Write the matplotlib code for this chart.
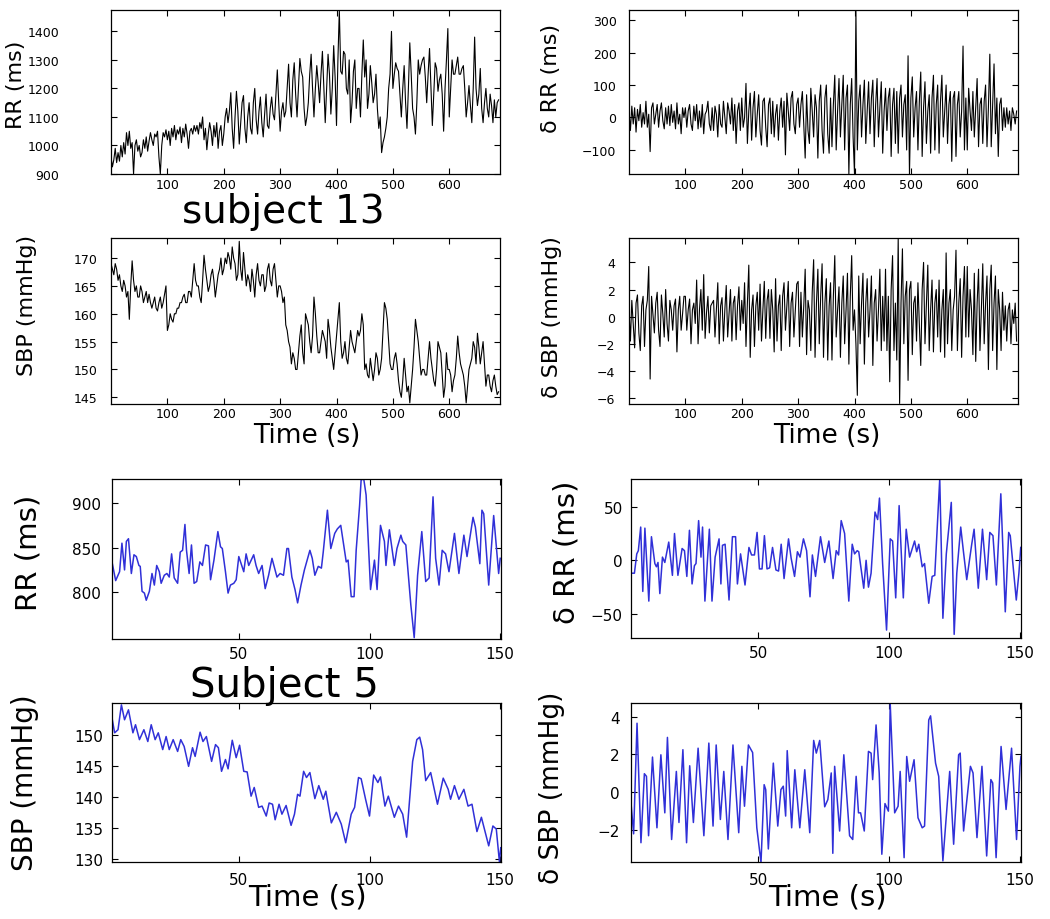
import numpy as np
import matplotlib
matplotlib.use("Agg")
from matplotlib import pyplot as plt

# subject 13, one value every 2.5 s
rr13 = [960, 925, 950, 990, 940, 975, 945, 1000, 960, 1010, 970, 1045, 1000, 1050, 990, 1010, 900, 1000, 1020, 980,
        1000, 960, 975, 1020, 990, 1030, 980, 1015, 1045, 1020, 1000, 1040, 1030, 1050, 960, 900, 1000, 1045, 1030, 1055,
        1020, 1050, 1000, 1060, 1030, 1070, 1020, 1055, 1040, 1065, 1010, 1060, 1030, 1075, 1040, 990, 1050, 1060, 1040, 1070,
        1050, 1070, 1040, 1080, 1060, 1100, 1020, 1060, 985, 1040, 1080, 1050, 1000, 1070, 1030, 1080, 990, 1050, 1070, 1000,
        1040, 1100, 1130, 1080, 1120, 1185, 1060, 990, 1100, 1190, 1120, 1005, 1080, 1150, 1175, 1060, 1010, 1100, 1150, 1060,
        1040, 1150, 1200, 1090, 1040, 1120, 1170, 1080, 1030, 1110, 1180, 1070, 1060, 1130, 1170, 1110, 1090, 1180, 1265, 1150,
        1050, 1120, 1150, 1100, 1120, 1200, 1285, 1150, 1100, 1230, 1290, 1180, 1100, 1200, 1305, 1260, 1240, 1130, 1070, 1100,
        1150, 1250, 1320, 1200, 1100, 1200, 1280, 1220, 1150, 1250, 1330, 1200, 1080, 1200, 1320, 1250, 1110, 1200, 1350, 1240,
        1070, 1300, 1475, 1260, 1250, 1330, 1320, 1200, 1180, 1300, 1080, 1150, 1260, 1300, 1130, 1200, 1200, 1100, 1250, 1370,
        1240, 1300, 1130, 1180, 1280, 1220, 1150, 1180, 1250, 1130, 1060, 1100, 975, 1010, 1030, 1060, 1100, 1200, 1250, 1400,
        1200, 1250, 1290, 1270, 1260, 1180, 1100, 1200, 1280, 1150, 1060, 1200, 1360, 1250, 1130, 1100, 1040, 1150, 1300, 1250,
        1280, 1300, 1310, 1240, 1150, 1250, 1340, 1200, 1070, 1180, 1290, 1270, 1190, 1230, 1250, 1180, 1050, 1200, 1300, 1410,
        1100, 1200, 1300, 1250, 1250, 1280, 1310, 1250, 1250, 1270, 1280, 1200, 1100, 1150, 1210, 1140, 1080, 1200, 1380, 1200,
        1140, 1180, 1270, 1130, 1080, 1150, 1200, 1130, 1100, 1180, 1140, 1080, 1160, 1100, 1150, 1160]

drr13 = [20, -40, 35, -20, 30, -45, 25, -10, 40, -30, 15, -20, 50, -30, 10, -105, 30, 45, -20, 10,
         40, -30, 20, 45, -10, -35, 30, -20, 35, -25, 40, -15, 20, -35, 45, -20, 10, -50, 30, 0,
         30, -30, 20, 40, -20, -40, 35, -10, 40, -35, 20, -30, 40, -50, 10, 20, 50, -20, -40, 30,
         -40, 35, 10, -60, 40, -20, -30, 50, 0, -50, 45, 20, -20, 60, -40, 40, -80, 20, 45, -40,
         60, -30, 0, 105, -80, 20, 75, -70, 30, 80, -60, 10, 70, -40, -85, 50, 60, -30, -90, 40,
         60, -50, 50, -60, 10, 40, -70, 20, 60, -30, 50, -115, 75, 20, -40, 60, 80, -20, -50, 40,
         60, -30, 40, 80, -20, -125, 70, -40, -80, 90, 20, -60, 70, 30, -125, 50, 100, -40, -110, 60,
         100, -50, -110, 60, -90, 40, 130, -100, 20, 120, -60, 40, 130, -100, 60, 100, -174, 40, 120, -60,
         -174, 330, -100, 50, 100, -60, 40, 115, -80, 20, 110, -50, 60, 115, -90, 40, 120, -60, 30, 110,
         -110, 20, 90, -40, 60, 90, -120, 40, 90, -80, 80, -110, 60, 100, -60, 40, 70, -100, 190, -174,
         60, 125, -60, 30, 80, -100, 50, 140, -120, 30, 110, -80, 20, 70, -110, 60, 130, -100, 40, 100,
         -110, 50, 130, -60, 20, 100, -80, 40, 80, -135, 60, 80, -120, 40, 80, -60, 20, 220, -100, 60,
         -100, 90, 20, -40, 80, -60, 30, 120, -90, 40, 60, -80, 50, 100, -90, 30, 195, -90, 40, 165,
         -50, 60, -120, 40, 60, -40, 30, -30, 30, -20, 20, -40, 30, 10, -20, 20]

sbp13 = [169, 168, 167, 169, 168, 166, 167, 165, 164, 166, 165, 163, 164, 159, 165, 169.5, 166, 164, 165, 163,
         163, 165, 164, 162, 163, 164, 162, 163.5, 162, 161, 162, 163, 161, 160.5, 162, 163, 161, 162, 163.5, 165,
         157, 158, 160, 159, 158.5, 160, 160, 161, 161, 162, 162, 163, 163.5, 162, 162, 164, 164, 163, 166, 169,
         166, 165, 165, 163, 162, 166, 170.5, 168, 166, 164, 165, 167, 168, 166, 163, 165, 167, 168, 170, 167,
         168, 170, 169, 171, 170, 168, 172, 170, 169, 166, 167, 173, 168, 166, 171, 168, 165, 167, 166, 164,
         168, 166, 163, 167, 169, 166, 165, 167, 167, 164, 165, 168, 169, 166, 165, 168, 169, 166, 163, 165,
         165, 164, 162, 163, 158, 157, 155, 154, 151, 153, 152, 150, 150, 153, 156, 158, 153, 151, 160, 159,
         158, 155, 153, 156, 163, 160, 156, 153, 153, 155, 157, 156, 155, 152, 159, 157, 154, 152, 150, 153,
         156, 159, 162, 155, 152, 153, 155, 152, 151, 154, 157, 155, 154, 153, 155, 157, 156, 157, 160, 158,
         150, 151, 149, 148.5, 152, 150, 148, 150, 153, 152, 149, 150, 152, 157, 162, 161, 159, 155, 151, 150,
         150, 152, 153, 151, 148, 146, 145, 148, 152, 149, 146, 147, 144, 147, 150, 154, 159, 157, 155, 152,
         149, 150, 150, 149, 149, 152, 155, 152, 150, 148, 147, 150, 155, 154, 153, 149, 145, 147, 153, 150,
         150, 149, 146, 148, 149, 152, 156, 153, 151, 150, 149, 147, 144, 147, 150, 151, 152, 155, 154, 151,
         156.5, 154, 151, 153, 155, 151, 147, 149, 149, 147, 146, 148, 149, 147, 145.5, 146]

dsbp13 = [0.5, -1.8, 1.2, -0.5, -2.3, 1.0, 1.6, -1.2, -2.5, 0.8, 1.5, -2.2, 0.5, 1.2, 3.7, -4.6, 1.5, 0.2, -1.2, 1.0,
          1.8, -1.0, -2.2, 1.6, 0.2, -1.5, 2.0, -0.5, -1.8, 1.2, 0.5, -1.0, 0.8, 1.3, -2.6, 0.5, 1.5, -1.0, 0.2, 1.5,
          1.5, -1.0, 0.5, 1.3, -2.0, 0.5, 1.0, -0.5, 2.7, -2.0, 0.5, 2.0, -1.0, 3.1, -1.6, 0.3, 1.5, -1.2, 0.8, 1.0,
          1.2, -1.5, 0.5, 2.5, -2.0, 0.8, 1.4, -1.8, 0.5, 2.3, -1.5, 0.2, 2.0, -1.8, 1.0, 1.5, -1.7, 0.8, 2.2, -1.0,
          1.2, -0.5, 2.5, -2.2, 1.0, 3.8, -3.0, 0.5, 1.6, -2.2, 0.8, 1.8, -1.0, 2.4, -1.8, 0.5, 2.6, -1.6, 1.2, 2.0,
          -1.6, 2.0, 0.5, -2.6, 2.8, -1.8, 0.8, 1.6, -2.5, 1.5, 2.5, -1.0, 0.8, 2.6, -2.2, 1.0, 1.8, -1.5, 0.5, 2.4,
          2.6, -2.2, 1.8, -1.5, 0.8, 3.5, -2.8, 1.2, 0.5, -2.5, 1.8, 4.2, -3.0, 1.0, 3.5, -2.0, 1.5, 3.9, -3.0, 1.0,
          2.8, -3.2, 0.8, 2.5, -3.2, 1.5, 4.5, -1.5, 0.5, 2.2, -3.0, 1.0, 3.0, -2.0, 0.5, 3.2, -3.5, 1.5, 4.5, -1.0,
          0.5, -2.0, -5.8, 3.0, -2.0, 1.0, 3.2, -3.5, 1.0, 2.8, -1.5, 0.5, 3.0, -3.6, 1.0, 2.0, -1.8, 0.5, 3.5, -2.5,
          1.5, -1.8, 3.5, -2.5, 1.5, -4.8, 2.0, 4.5, -2.5, 1.0, -3.2, 5.8, -6.4, 1.0, 5.0, -2.0, 1.5, 2.6, -4.7, 2.0,
          2.6, -2.8, 1.0, 1.5, -1.8, 2.5, -0.5, -3.6, 2.0, 4.0, -2.0, 1.0, 3.8, -2.5, 0.5, 2.7, -2.6, 1.0, 2.0, -1.5,
          2.7, -2.6, 0.5, 2.0, -3.0, 4.7, -2.0, 1.0, 2.0, -2.5, 0.5, 1.5, 4.9, -2.5, 1.0, 2.8, -3.0, 1.5, 3.7, -1.5,
          3.7, -1.5, 2.0, 0.5, -2.8, 3.2, -3.3, 1.0, 3.5, -2.5, 0.5, 3.9, -2.0, 1.0, 3.0, -3.9, 2.0, 3.8, -2.5, 1.0,
          3.0, -3.9, 2.0, 0.5, -2.5, 1.8, -1.0, 0.8, -1.8, 0.5, 1.0, -2.0, 0.5, -0.5, 1.0, -1.8]

# subject 5, turning points (time s, value)
t_rr5 = [1.5, 2.9, 4.4, 5.3, 6.3, 7.0, 7.8, 8.9, 9.9, 10.8,
         11.8, 12.3, 13.0, 13.9, 14.6, 15.8, 16.8, 17.7, 18.6, 19.6,
         20.3, 21.5, 22.5, 23.4, 24.3, 25.3, 26.6, 27.6, 28.5, 29.4,
         30.0, 31.0, 31.9, 32.9, 33.9, 35.1, 36.1, 37.3, 38.4, 39.2,
         40.5, 41.1, 42.0, 43.0, 43.7, 44.9, 45.9, 46.8, 48.1, 49.0,
         50.0, 51.9, 52.8, 53.8, 55.7, 56.6, 57.6, 58.9, 60.1, 61.4,
         62.7, 64.6, 65.8, 67.1, 68.4, 69.0, 70.3, 71.5, 72.5, 73.8,
         75.1, 77.2, 78.1, 79.1, 80.4, 81.6, 82.3, 83.9, 85.2, 86.7,
         87.7, 89.0, 91.1, 91.8, 93.0, 94.1, 94.9, 96.2, 96.8, 97.8,
         98.7, 100.4, 101.9, 102.9, 104.2, 105.7, 106.3, 107.6, 109.5, 110.5,
         112.0, 112.7, 113.9, 115.8, 117.1, 118.4, 120.0, 121.5, 122.8, 124.3,
         125.3, 126.6, 127.8, 129.1, 130.4, 132.5, 134.2, 136.1, 137.3, 139.6,
         140.5, 142.2, 143.0, 143.7, 145.6, 147.5, 149.4, 150.0]
rr5 = [834, 813, 823, 855, 825, 857, 860, 821, 842, 840,
       830, 829, 801, 799, 791, 801, 821, 808, 830, 823,
       810, 819, 821, 817, 843, 816, 810, 845, 847, 876,
       847, 821, 853, 810, 812, 834, 830, 853, 852, 814,
       836, 849, 868, 851, 849, 823, 799, 808, 810, 814,
       840, 823, 843, 830, 842, 830, 821, 830, 804, 819,
       838, 817, 821, 819, 849, 849, 817, 803, 788, 808,
       825, 847, 838, 819, 829, 827, 845, 892, 849, 866,
       871, 875, 834, 836, 795, 795, 847, 897, 926, 927,
       909, 803, 836, 803, 875, 857, 830, 870, 830, 849,
       864, 857, 853, 786, 749, 819, 868, 812, 816, 907,
       838, 808, 847, 843, 823, 866, 821, 864, 840, 884,
       873, 832, 892, 888, 808, 886, 821, 838]

t_drr5 = [2.1, 2.8, 3.7, 4.3, 5.2, 6.0, 6.8, 8.3, 9.3, 10.6,
          11.2, 11.8, 12.5, 13.5, 14.4, 15.9, 17.3, 18.1, 19.4, 21.0,
          21.9, 22.8, 23.8, 24.8, 25.7, 26.3, 27.3, 28.2, 28.8, 29.7,
          31.4, 32.4, 33.6, 35.1, 35.8, 36.4, 37.4, 38.9, 40.2, 41.4,
          42.1, 43.3, 45.0, 46.5, 47.5, 48.6, 49.6, 50.5, 51.5, 52.4,
          53.4, 54.4, 55.5, 56.8, 57.8, 58.8, 59.9, 61.6, 62.6, 63.9,
          65.0, 66.0, 67.3, 68.5, 69.8, 70.7, 71.9, 73.8, 75.4, 77.0,
          78.6, 79.8, 80.7, 81.7, 83.0, 84.6, 85.9, 86.8, 87.8, 88.4,
          90.3, 91.2, 92.1, 93.1, 94.6, 95.6, 96.3, 97.5, 99.0, 100.4,
          101.3, 102.5, 103.8, 105.4, 106.5, 107.8, 109.7, 110.5, 111.3, 112.6,
          113.5, 115.1, 116.4, 117.4, 119.3, 120.5, 121.8, 123.7, 124.8, 125.8,
          127.3, 128.3, 129.6, 131.5, 132.4, 134.0, 135.6, 137.2, 138.4, 139.6,
          140.9, 142.6, 144.3, 145.6, 146.2, 147.2, 148.5, 149.5, 150.2]
drr5 = [-12, -12, 6, 9, 31, -29, 30, -38, 22, -3,
        -6, -2, -31, 3, -2, 17, -14, 25, -14, 11,
        9, -15, 28, -22, -5, -3, 37, 3, 31, -38,
        29, -38, 3, 20, -22, 14, 15, -37, 22, 22,
        -22, 6, -23, 12, 5, 5, 26, -8, -8, 23,
        -8, -7, 12, -9, -10, 15, -17, 20, 2, -15,
        8, 3, 20, 9, -34, 5, -15, 22, -2, 18,
        -17, 9, 5, 37, 25, -38, 15, 6, 9, 8,
        -26, 0, -25, -12, 45, 38, 58, -3, -65, 20,
        18, -35, 51, -35, 29, 3, 18, 8, 15, -6,
        -3, -40, -15, -14, 76, -54, 6, 54, -69, -12,
        31, 9, -18, 15, 29, -26, 29, -18, 26, 23,
        -23, 62, -48, 26, 23, -3, -37, -12, 12]

t_sbp5 = [1.5, 2.5, 3.8, 5.1, 6.3, 7.8, 9.5, 10.5, 12.0, 13.7,
          15.2, 16.5, 18.0, 19.2, 20.9, 22.2, 23.4, 24.9, 26.6, 27.8,
          29.1, 30.8, 32.3, 33.3, 35.2, 36.3, 37.6, 39.6, 41.1, 42.2,
          43.4, 44.9, 45.9, 47.5, 49.0, 50.3, 51.9, 53.2, 54.7, 55.9,
          57.6, 58.9, 60.5, 61.6, 62.9, 63.9, 65.4, 66.5, 68.1, 70.0,
          71.3, 72.5, 73.4, 74.8, 75.9, 77.2, 79.1, 80.6, 82.3, 83.3,
          85.4, 87.3, 89.2, 90.9, 93.0, 94.3, 95.8, 96.8, 98.5, 100.0,
          101.6, 103.2, 104.2, 105.9, 107.2, 109.5, 111.1, 112.7, 114.2, 116.5,
          118.1, 119.2, 120.3, 121.5, 123.4, 126.0, 128.2, 130.1, 131.0, 132.5,
          134.2, 136.1, 137.7, 139.2, 141.1, 142.8, 145.6, 147.2, 148.5, 149.7,
          150.2]
sbp5 = [152.7, 150.3, 150.8, 154.8, 152.4, 154.0, 150.3, 151.6, 149.2, 150.8,
        148.9, 151.6, 149.2, 150.3, 147.6, 149.7, 147.6, 149.2, 147.3, 149.2,
        148.1, 144.9, 147.9, 146.5, 150.4, 148.9, 149.7, 145.7, 148.4, 147.9,
        144.1, 146.0, 144.5, 149.1, 146.3, 148.3, 144.1, 144.0, 140.1, 141.5,
        138.3, 138.5, 136.9, 139.0, 138.8, 136.3, 138.8, 137.2, 138.6, 135.4,
        137.2, 140.4, 140.1, 144.1, 143.1, 143.9, 139.7, 141.8, 139.6, 140.9,
        135.8, 137.5, 135.6, 132.6, 137.2, 138.3, 143.1, 142.9, 139.6, 136.9,
        143.5, 142.3, 143.2, 138.5, 140.1, 136.7, 138.5, 137.2, 133.5, 145.7,
        149.2, 149.6, 147.6, 142.6, 143.9, 138.8, 143.0, 141.2, 139.6, 141.8,
        139.6, 141.2, 138.5, 138.8, 134.4, 136.7, 132.1, 135.3, 134.8, 129.5,
        131.8]

t_dsbp5 = [1.5, 2.5, 3.8, 5.3, 6.6, 7.4, 8.2, 9.7, 11.4, 12.9,
           14.4, 15.4, 17.0, 18.8, 19.8, 21.3, 22.7, 23.9, 25.3, 27.1,
           29.3, 31.2, 32.8, 34.0, 35.6, 36.9, 38.5, 40.4, 42.6, 43.8,
           44.8, 46.3, 47.9, 49.5, 51.1, 52.3, 52.9, 53.9, 55.8, 57.5,
           58.7, 59.6, 60.5, 61.1, 62.8, 64.0, 65.9, 67.8, 69.7, 71.2,
           72.2, 73.5, 75.4, 76.6, 77.9, 78.5, 79.2, 81.1, 82.7, 84.9,
           86.1, 87.4, 88.3, 89.1, 90.5, 92.1, 93.1, 93.7, 95.0, 96.2,
           97.2, 98.4, 99.7, 100.4, 102.1, 103.4, 104.2, 105.7, 106.7, 107.8,
           109.5, 111.0, 112.6, 113.5, 115.1, 115.8, 117.7, 118.9, 120.5, 123.1,
           124.6, 126.5, 127.1, 128.4, 131.0, 132.0, 133.5, 135.4, 137.2, 138.8,
           139.5, 140.8, 142.7, 144.6, 146.7, 148.6, 149.9, 150.3]
dsbp5 = [-0.56, -2.2, 3.65, -2.67, 0.98, 0.84, -2.3, 1.86, -1.88, 1.98,
         -1.09, 2.9, -2.5, 1.1, -1.6, 2.25, -2.67, 1.4, -1.6, 2.33,
         -2.3, 2.6, -1.79, 2.5, -1.44, 1.1, -2.5, 2.5, -2.14, 1.37,
         -0.74, 2.5, 2.1, -1.88, -3.72, 0.4, 0.14, -3.0, 1.54, -1.79,
         0.14, 0.32, -1.26, 2.2, -1.88, 1.19, -1.88, 1.19, -2.14, 2.74,
         2.07, 2.74, -0.77, -0.39, 1.02, -3.23, 1.37, -2.05, 1.98, -2.3,
         -2.5, 0.84, -1.09, -1.09, -2.05, 2.16, 2.07, 0.67, 3.56, 1.02,
         -3.28, -0.6, -1.0, 4.67, -1.09, -0.74, 1.1, -3.46, 1.89, 0.58,
         1.72, -1.35, -1.88, -1.79, 3.82, 4.04, 1.54, 0.84, -3.63, 1.1,
         -2.75, 1.98, 2.07, -2.05, 1.37, 1.02, -2.4, 1.37, -3.37, 0.67,
         0.49, -3.46, 2.42, -0.91, 2.33, -2.5, 1.37, 1.9]

W, H = 1050, 920
plt.rcParams["font.family"] = ["DejaVu Sans"]

fig = plt.figure(figsize=(W / 100, H / 100), dpi=100)


def add_axes(left, top, right, bottom):
    return fig.add_axes([left / W, 1 - bottom / H, (right - left) / W, (bottom - top) / H])


def style(ax, size, ypad, xpad):
    ax.tick_params(direction="in", top=True, right=True, length=4, width=0.8,
                   labelsize=size)
    ax.tick_params(axis="y", pad=ypad)
    ax.tick_params(axis="x", pad=xpad)
    for s in ax.spines.values():
        s.set_linewidth(0.9)


def label(x, y, text, size):
    fig.text(x / W, 1 - y / H, text, rotation=90, ha="center", va="center", fontsize=size)


def htext(x, y, text, size):
    fig.text(x / W, 1 - y / H, text, ha="center", va="center", fontsize=size)


def times(series, step):
    return np.arange(len(series)) * step


# ---- subject 13 (black)
ax1 = add_axes(111, 11, 500, 175)
ax1.plot(times(rr13, 2.5), rr13, color="black", lw=0.8)
ax1.set_xlim(0, 690)
ax1.set_ylim(900, 1475)
ax1.set_xticks([100, 200, 300, 400, 500, 600])
ax1.set_yticks([900, 1000, 1100, 1200, 1300, 1400])
style(ax1, 9, 37, 3)

ax2 = add_axes(629, 11, 1018, 175)
ax2.plot(times(drr13, 2.5), drr13, color="black", lw=0.8)
ax2.set_xlim(0, 690)
ax2.set_ylim(-174, 331)
ax2.set_xticks([100, 200, 300, 400, 500, 600])
ax2.set_yticks([-100, 0, 100, 200, 300])
style(ax2, 9, 9, 3)

ax3 = add_axes(111, 239, 500, 405)
ax3.plot(times(sbp13, 2.5), sbp13, color="black", lw=0.8)
ax3.set_xlim(0, 690)
ax3.set_ylim(143.8, 173.6)
ax3.set_xticks([100, 200, 300, 400, 500, 600])
ax3.set_yticks([145, 150, 155, 160, 165, 170])
style(ax3, 9, 10, 2)

ax4 = add_axes(629, 239, 1018, 405)
ax4.plot(times(dsbp13, 2.5), dsbp13, color="black", lw=0.8)
ax4.set_xlim(0, 690)
ax4.set_ylim(-6.44, 5.8)
ax4.set_xticks([100, 200, 300, 400, 500, 600])
ax4.set_yticks([-6, -4, -2, 0, 2, 4])
style(ax4, 9, 10, 2)

label(16, 85, "RR (ms)", 16)
label(551, 78, "δ RR (ms)", 16)
label(27, 305, "SBP (mmHg)", 16)
label(552, 317, "δ SBP (mmHg)", 16)
htext(283, 212, "subject 13", 28)
htext(307, 436, "Time (s)", 19)
htext(827, 436, "Time (s)", 19)

# ---- subject 5 (blue)
blue = "#3030d8"
ax5 = add_axes(112, 480, 501, 640)
ax5.plot(t_rr5, rr5, color=blue, lw=1.1)
ax5.set_xlim(1.5, 150.3)
ax5.set_ylim(747.5, 927)
ax5.set_xticks([50, 100, 150])
ax5.set_yticks([800, 850, 900])
style(ax5, 11, 8, 5)

ax6 = add_axes(631, 480, 1021, 639)
ax6.plot(t_drr5, drr5, color=blue, lw=1.1)
ax6.set_xlim(1.5, 150.3)
ax6.set_ylim(-72.4, 75.8)
ax6.set_xticks([50, 100, 150])
ax6.set_yticks([-50, 0, 50])
style(ax6, 11, 6, 5)

ax7 = add_axes(112, 704, 501, 863)
ax7.plot(t_sbp5, sbp5, color=blue, lw=1.1)
ax7.set_xlim(1.5, 150.3)
ax7.set_ylim(129.5, 155.1)
ax7.set_xticks([50, 100, 150])
ax7.set_yticks([130, 135, 140, 145, 150])
style(ax7, 11, 6, 7)

ax8 = add_axes(631, 704, 1021, 863)
ax8.plot(t_dsbp5, dsbp5, color=blue, lw=1.1)
ax8.set_xlim(1.5, 150.3)
ax8.set_ylim(-3.69, 4.72)
ax8.set_xticks([50, 100, 150])
ax8.set_yticks([-2, 0, 2, 4])
style(ax8, 11, 8, 7)

label(28, 553, "RR (ms)", 21)
label(567, 552, "δ RR (ms)", 21)
label(25, 783, "SBP (mmHg)", 20)
label(552, 788, "δ SBP (mmHg)", 19)
htext(284, 686, "Subject 5", 29)
htext(307, 898, "Time (s)", 21)
htext(827, 898, "Time (s)", 21)

fig.savefig("out.png", dpi=100)
